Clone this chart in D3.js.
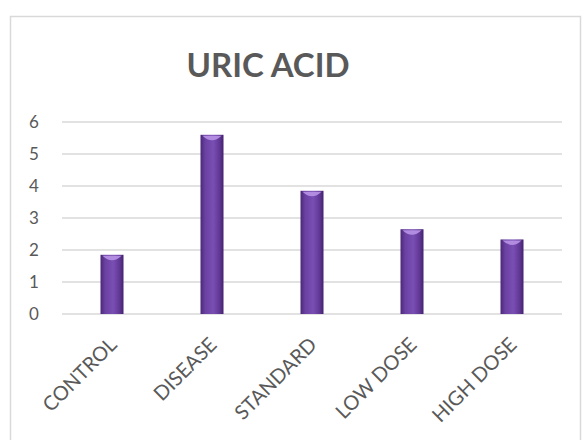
<!DOCTYPE html>
<html>
<head>
<meta charset="utf-8">
<script src="https://d3js.org/d3.v7.min.js"></script>
<style>
  body { margin: 0; background: #fff; }
  svg { display: block; }
</style>
</head>
<body>
<script>
// chart data
var categories = ["CONTROL", "DISEASE", "STANDARD", "LOW DOSE", "HIGH DOSE"];
var values = [1.85, 5.6, 3.85, 2.65, 2.33];
var yTicks = [0, 1, 2, 3, 4, 5, 6];
var title = "URIC ACID";

var font = "Lato, 'Open Sans', sans-serif";
var width = 586, height = 440;
var plotLeft = 62, plotRight = 562, plotTop = 122, plotBottom = 314;

var svg = d3.select("body").append("svg")
	.attr("width", width)
	.attr("height", height)
	.style("font-family", font);

// gradient for the bars (darker edges)
var defs = svg.append("defs");
var grad = defs.append("linearGradient").attr("id", "barGrad")
	.attr("x1", "0%").attr("x2", "100%").attr("y1", "0%").attr("y2", "0%");
grad.append("stop").attr("offset", "0%").attr("stop-color", "#4a2878");
grad.append("stop").attr("offset", "20%").attr("stop-color", "#6a40a2");
grad.append("stop").attr("offset", "55%").attr("stop-color", "#7a4fb4");
grad.append("stop").attr("offset", "85%").attr("stop-color", "#5e3592");
grad.append("stop").attr("offset", "100%").attr("stop-color", "#42226d");

// chart frame
svg.append("rect")
	.attr("x", 10.5).attr("y", 16.5)
	.attr("width", 570).attr("height", 440)
	.attr("fill", "none")
	.attr("stroke", "#d9d9d9")
	.attr("stroke-width", 1.5);

var x = d3.scaleBand().domain(categories).range([plotLeft, plotRight]).paddingInner(0.77).paddingOuter(0.385);
var y = d3.scaleLinear().domain([0, 6]).range([plotBottom, plotTop]);

// gridlines
svg.append("g").selectAll("line").data(yTicks).enter()
	.append("line")
	.attr("x1", plotLeft).attr("x2", plotRight)
	.attr("y1", function(d){return y(d);})
	.attr("y2", function(d){return y(d);})
	.attr("stroke", "#d9d9d9")
	.attr("stroke-width", 1.5);

// y axis labels
var yAxis = d3.axisLeft(y).tickValues(yTicks).tickFormat(d3.format("d")).tickSize(0).tickPadding(0);
var ya = svg.append("g").attr("transform", "translate(40,0)").call(yAxis)
	.attr("font-family", font);
ya.select(".domain").remove();
ya.selectAll("text")
	.attr("fill", "#595959")
	.style("font-size", "17px")
	.attr("text-anchor", "middle")
	.attr("x", -6);

// bars
var bars = svg.append("g").selectAll("g").data(values).enter().append("g");
bars.append("rect")
	.attr("x", function(d, i){return x(categories[i]);})
	.attr("y", function(d){return y(d);})
	.attr("width", x.bandwidth())
	.attr("height", function(d){return plotBottom - y(d);})
	.attr("fill", "url(#barGrad)");
// top highlight
bars.append("path")
	.attr("d", function(d, i){
		var x0 = x(categories[i]), w = x.bandwidth(), y0 = y(d);
		return "M" + (x0 + 2) + "," + (y0 + 1) + " L" + (x0 + w - 2) + "," + (y0 + 1) +
			" Q" + (x0 + w / 2) + "," + (y0 + 10) + " " + (x0 + 2) + "," + (y0 + 1) + "Z";
	})
	.attr("fill", "#b894e6")
	.attr("opacity", 0.9);

// x axis labels
var xAxis = d3.axisBottom(x).tickSize(0).tickPadding(0);
var xa = svg.append("g").attr("transform", "translate(0," + plotBottom + ")").call(xAxis)
	.attr("font-family", font);
xa.select(".domain").remove();
xa.selectAll("text")
	.attr("fill", "#595959")
	.style("font-size", "20px")
	.attr("text-anchor", "end")
	.attr("dy", 0)
	.attr("y", 0)
	.attr("transform", "translate(6,32) rotate(-45)");

// title
svg.append("text")
	.attr("x", 268).attr("y", 77)
	.attr("text-anchor", "middle")
	.attr("fill", "#595959")
	.style("font-size", "33px")
	.style("font-weight", "bold")
	.text(title);
</script>
</body>
</html>
